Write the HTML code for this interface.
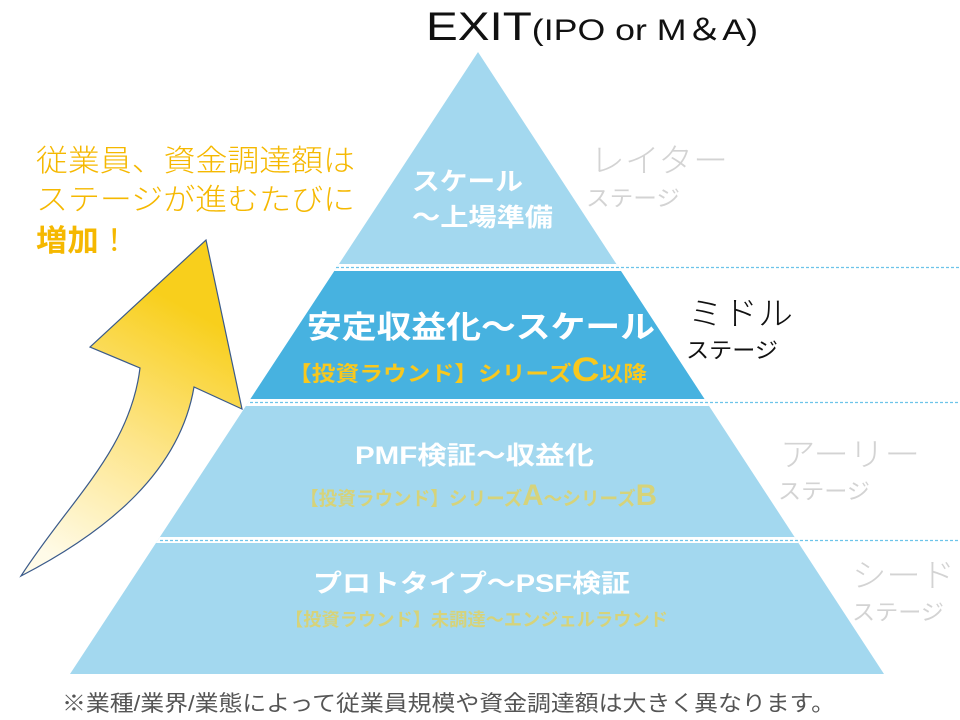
<!DOCTYPE html>
<html><head><meta charset="utf-8">
<style>
html,body{margin:0;padding:0;background:#fff;}
svg{display:block;}
text{font-family:"Liberation Sans","Noto Sans CJK JP",sans-serif;}
</style></head>
<body>
<svg width="960" height="720" viewBox="0 0 960 720" xmlns="http://www.w3.org/2000/svg">
<defs>
<clipPath id="tri"><polygon points="478,52 70,674 884,674"/></clipPath>
<linearGradient id="ag" x1="0.3" y1="1" x2="0.6" y2="0.15">
<stop offset="0" stop-color="#fffbe8"/>
<stop offset="0.5" stop-color="#fde58a"/>
<stop offset="1" stop-color="#f8cf1c"/>
</linearGradient>
</defs>
<g clip-path="url(#tri)">
<rect x="0" y="0" width="960" height="720" fill="#a3d8ef"/>
<rect x="0" y="271" width="960" height="128" fill="#47b2e0"/>
<rect x="0" y="264" width="960" height="7" fill="#fff"/>
<rect x="0" y="399" width="960" height="7" fill="#fff"/>
<rect x="0" y="537" width="960" height="6" fill="#fff"/>
</g>
<g stroke="#6cc4ea" stroke-width="1.2" stroke-dasharray="3,2">
<line x1="336" y1="267.5" x2="960" y2="267.5"/>
<line x1="250" y1="402.5" x2="960" y2="402.5"/>
<line x1="160" y1="540.5" x2="960" y2="540.5"/>
</g>
<path d="M206,240 L242,409 L194,387 C180,470 110,530 21,576 C70,500 130,450 140,368 L90,347 Z" fill="url(#ag)" stroke="#3a5a8a" stroke-width="1.2"/>
<text x="426" y="40" font-size="40" fill="#111" textLength="332" lengthAdjust="spacingAndGlyphs">EXIT<tspan font-size="30">(IPO or M＆A)</tspan></text>
<text x="36" y="171" font-size="30" fill="#f5b800" font-weight="300" textLength="319" lengthAdjust="spacingAndGlyphs">従業員、資金調達額は</text>
<text x="36" y="210" font-size="30" fill="#f5b800" font-weight="300" textLength="319" lengthAdjust="spacingAndGlyphs">ステージが進むたびに</text>
<text x="36" y="251" font-size="30" fill="#f5b800" textLength="94" lengthAdjust="spacingAndGlyphs"><tspan font-weight="bold">増加</tspan>！</text>
<text x="412" y="190" font-size="25" font-weight="bold" fill="#fff" textLength="111" lengthAdjust="spacingAndGlyphs">スケール</text>
<text x="412" y="226" font-size="25" font-weight="bold" fill="#fff" textLength="141" lengthAdjust="spacingAndGlyphs">～上場準備</text>
<text x="307" y="338" font-size="31" font-weight="bold" fill="#fff" textLength="348" lengthAdjust="spacingAndGlyphs">安定収益化～スケール</text>
<text x="288" y="381" font-size="21" font-weight="bold" fill="#f8c81e" textLength="359" lengthAdjust="spacingAndGlyphs">【投資ラウンド】シリーズ<tspan font-size="34">C</tspan>以降</text>
<text x="355" y="464" font-size="25" font-weight="bold" fill="#fff" textLength="239" lengthAdjust="spacingAndGlyphs">PMF検証～収益化</text>
<text x="300" y="505" font-size="19" font-weight="bold" fill="#d6d37a" textLength="357" lengthAdjust="spacingAndGlyphs">【投資ラウンド】シリーズ<tspan font-size="30">A</tspan>～シリーズ<tspan font-size="30">B</tspan></text>
<text x="313" y="592" font-size="25" font-weight="bold" fill="#fff" textLength="317" lengthAdjust="spacingAndGlyphs">プロトタイプ～PSF検証</text>
<text x="285" y="626" font-size="18" font-weight="bold" fill="#d6d37a" textLength="383" lengthAdjust="spacingAndGlyphs">【投資ラウンド】未調達～エンジェルラウンド</text>
<text x="590" y="172" font-size="33" fill="#d3d3d3" font-weight="300" textLength="138" lengthAdjust="spacingAndGlyphs">レイター</text>
<text x="586" y="206" font-size="22" fill="#d3d3d3" textLength="94" lengthAdjust="spacingAndGlyphs">ステージ</text>
<text x="688" y="325" font-size="33" fill="#111" font-weight="300" textLength="105" lengthAdjust="spacingAndGlyphs">ミドル</text>
<text x="686" y="358" font-size="22" fill="#111" textLength="92" lengthAdjust="spacingAndGlyphs">ステージ</text>
<text x="780" y="466" font-size="33" fill="#d3d3d3" font-weight="300" textLength="140" lengthAdjust="spacingAndGlyphs">アーリー</text>
<text x="778" y="499" font-size="22" fill="#d3d3d3" textLength="92" lengthAdjust="spacingAndGlyphs">ステージ</text>
<text x="852" y="587" font-size="33" fill="#d3d3d3" font-weight="300" textLength="103" lengthAdjust="spacingAndGlyphs">シード</text>
<text x="852" y="620" font-size="22" fill="#d3d3d3" textLength="92" lengthAdjust="spacingAndGlyphs">ステージ</text>
<text x="62" y="711" font-size="22" fill="#555" textLength="773" lengthAdjust="spacingAndGlyphs">※業種/業界/業態によって従業員規模や資金調達額は大きく異なります。</text>
</svg>
</body></html>
